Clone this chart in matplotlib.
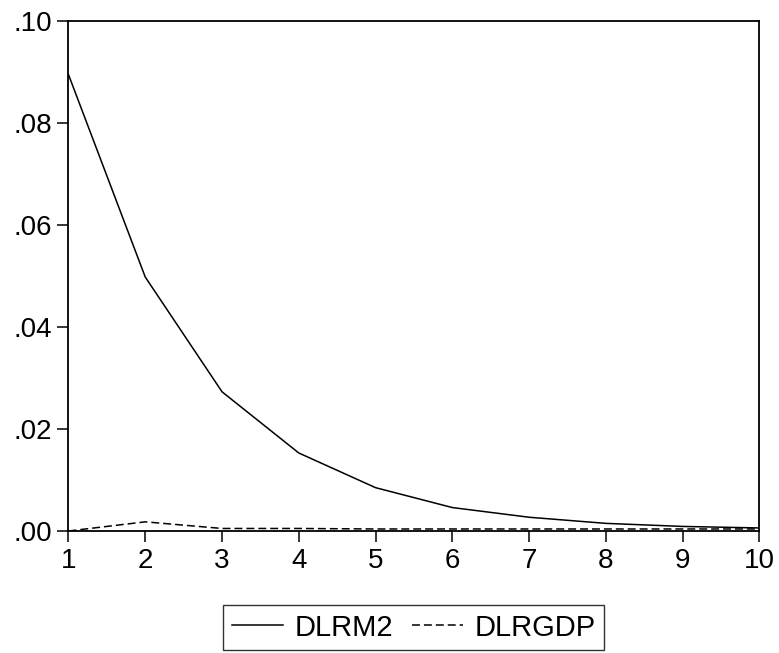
import numpy as np
import matplotlib.pyplot as plt

plt.rcParams['font.family'] = ['Liberation Sans', 'DejaVu Sans']

periods = [1, 2, 3, 4, 5, 6, 7, 8, 9, 10]
dlrm2 = [0.0895, 0.0498, 0.0273, 0.0153, 0.0085, 0.0046, 0.0027, 0.0015, 0.0009, 0.0006]
dlrgdp = [0.0, 0.0018, 0.0005, 0.0005, 0.0004, 0.0004, 0.0004, 0.0004, 0.0004, 0.0004]
ytick_vals = [0.0, 0.02, 0.04, 0.06, 0.08, 0.10]
ytick_labels = ['.00', '.02', '.04', '.06', '.08', '.10']

fig = plt.figure(figsize=(7.79, 6.53), dpi=100)
ax = fig.add_axes([0.0879, 0.1868, 0.8870, 0.781])

ax.plot(periods, dlrm2, color='black', lw=1.1, label='DLRM2')
ax.plot(periods, dlrgdp, color='black', lw=1.1, dashes=(5.2, 2.6), label='DLRGDP')

ax.set_xlim(1, 10)
ax.set_ylim(0, 0.10)
ax.set_xticks(periods)
ax.set_yticks(ytick_vals)
ax.set_yticklabels(ytick_labels)
ax.tick_params(direction='out', length=8, width=1.1, labelsize=20)
ax.tick_params(axis='x', pad=4)
ax.tick_params(axis='y', pad=4)
for s in ax.spines.values():
    s.set_linewidth(1.3)

leg = fig.legend(loc='center', bbox_to_anchor=(0.531, 0.039), ncol=2, fontsize=21,
                 frameon=True, fancybox=False, edgecolor='black', handlelength=1.75,
                 columnspacing=0.65, handletextpad=0.4, borderpad=0.3)
leg.get_frame().set_linewidth(1.0)

fig.savefig('out.png', dpi=100)
